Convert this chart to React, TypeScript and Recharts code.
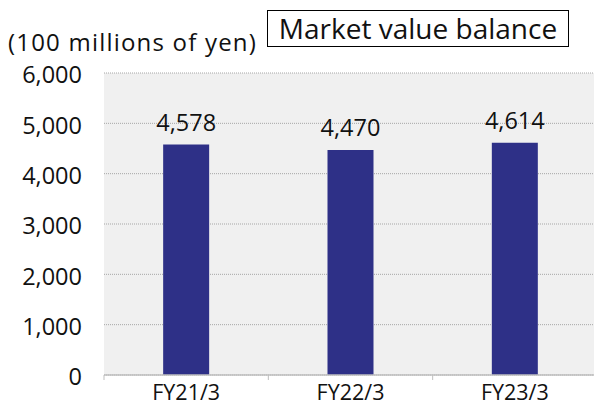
import { BarChart, Bar, XAxis, YAxis, CartesianGrid, LabelList } from "recharts";

const categories = ["FY21/3", "FY22/3", "FY23/3"];
const balance = [4578, 4470, 4614];
const yTicks = [0, 1000, 2000, 3000, 4000, 5000, 6000];

const data = categories.map((name, i) => ({ name, value: balance[i] }));

const FONT = "'Open Sans', 'Noto Sans', sans-serif";
const fmt = (v: number) => v.toLocaleString("en-US");

// category label plus the small tick marks sitting on the category boundaries
function CategoryTick(props: any) {
  const { x, y, payload, index, visibleTicksCount } = props;
  const step = 493 / categories.length;
  const isLast = index === visibleTicksCount - 1;
  return (
    <g>
      <line x1={x - step / 2} x2={x - step / 2} y1={y - 8} y2={y - 3} stroke="#BFBFBF" />
      {isLast && <line x1={x + step / 2} x2={x + step / 2} y1={y - 8} y2={y - 3} stroke="#BFBFBF" />}
      <text x={x} y={y + 17} textAnchor="middle" fontSize={21.5} fill="#111" fontFamily={FONT}>
        {payload.value}
      </text>
    </g>
  );
}

export default function App() {
  return (
    <div
      style={{
        position: "absolute",
        left: 0,
        top: 0,
        width: 594,
        height: 405,
        overflow: "hidden",
        background: "#fff",
        fontFamily: FONT,
      }}
    >
      <div
        style={{
          position: "absolute",
          left: 8,
          top: 26,
          fontSize: 24,
          lineHeight: "32px",
          letterSpacing: 1.2,
          color: "#111",
          whiteSpace: "nowrap",
        }}
      >
        (100 millions of yen)
      </div>
      <div
        style={{
          position: "absolute",
          left: 267,
          top: 10,
          width: 300,
          height: 35,
          border: "1.5px solid #000",
          fontSize: 28,
          lineHeight: "35px",
          textAlign: "center",
          color: "#111",
          whiteSpace: "nowrap",
        }}
      >
        Market value balance
      </div>
      <BarChart
        width={597}
        height={405}
        data={data}
        margin={{ top: 73, right: 0, left: 0, bottom: 0 }}
        barCategoryGap="36%"
      >
        <CartesianGrid
          vertical={false}
          fill="#F0F0F0"
          stroke="#A6A6A6"
          strokeDasharray="1 1"
        />
        <XAxis
          dataKey="name"
          height={30}
          axisLine={{ stroke: "#BFBFBF", strokeWidth: 1.5 }}
          tickLine={false}
          tick={<CategoryTick />}
          tickSize={0}
          tickMargin={8}
        />
        <YAxis
          width={104}
          domain={[0, 6000]}
          ticks={yTicks}
          interval={0}
          axisLine={false}
          tickLine={false}
          tickSize={0}
          tickMargin={22}
          tickFormatter={fmt}
          tick={{ fontSize: 23.5, fill: "#111", fontFamily: FONT, dy: 2 }}
        />
        <Bar dataKey="value" fill="#2E3087" isAnimationActive={false}>
          <LabelList
            dataKey="value"
            position="top"
            offset={14}
            formatter={(v: any) => fmt(Number(v))}
            style={{ fontSize: 23.5, fill: "#111", fontFamily: FONT }}
          />
        </Bar>
      </BarChart>
    </div>
  );
}
